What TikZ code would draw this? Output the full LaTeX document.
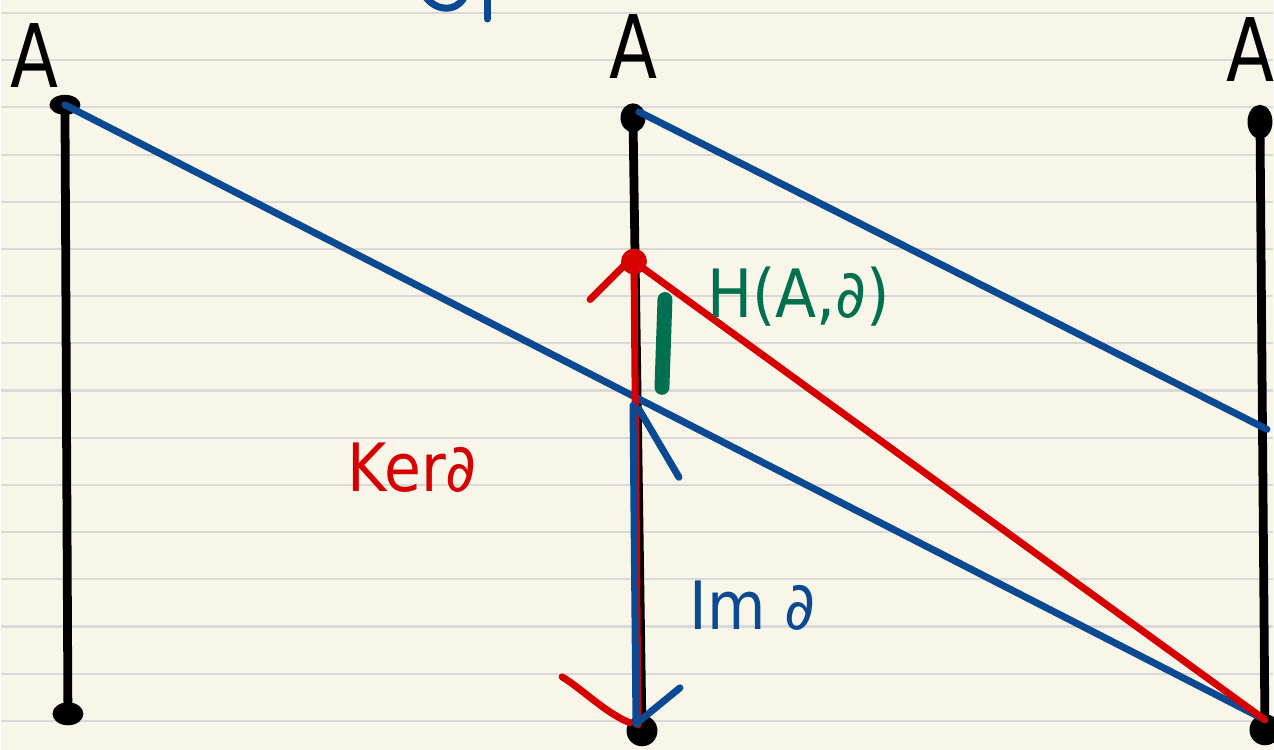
\documentclass[tikz,border=0pt]{standalone}
\usepackage{fontspec}
\setmainfont{DejaVu Sans}
\usetikzlibrary{shapes.geometric,calc}
\definecolor{paper}{HTML}{F8F6E9}
\definecolor{ruling}{HTML}{D9D9D9}
\definecolor{imblue}{HTML}{0B4A92}
\definecolor{kerred}{HTML}{D60000}
\definecolor{homgreen}{HTML}{00704F}

\begin{document}
\begin{tikzpicture}[
  x=0.02cm, y=-0.02cm,
  dot/.style={ellipse, fill=black, inner sep=0pt, minimum width=0.5cm, minimum height=0.58cm},
  pole/.style={line width=5pt, black},
  map/.style={line width=4pt, imblue, line cap=round},
  ker/.style={line width=4pt, kerred, line cap=round},
  lbl/.style={font=\fontsize{50}{50}\selectfont, inner sep=0pt, xscale=0.8},
  hand/.style={font=\fontsize{38}{38}\selectfont, inner sep=0pt, xscale=0.9}
]
% ruled paper
\fill[paper] (0,0) rectangle (1274,751);
\foreach \k in {0,...,15}
  \draw[ruling, line width=1.2pt] (0,{13+47.27*\k}) -- (1274,{13+47.27*\k});
\useasboundingbox (0,0) rectangle (1274,751);

% the three copies of A
\node[dot, minimum width=0.62cm, minimum height=0.4cm] (ltop) at (64,105) {};
\node[dot, minimum width=0.62cm, minimum height=0.46cm] (lbot) at (67,715) {};
\node[dot] (mtop) at (633,118) {};
\node[dot, minimum width=0.62cm, minimum height=0.62cm] (mbot) at (642,732) {};
\node[dot, minimum height=0.68cm] (rtop) at (1261,122) {};
\node[dot, minimum width=0.62cm, minimum height=0.62cm] (rbot) at (1266,731) {};

\node[lbl] (lA) at (34,56) {A};
\node[lbl] (mA) at (633,47) {A};
\node[lbl] (rA) at (1252,50) {A};

\draw[pole] (ltop.center) -- (lbot.center);
\draw[pole] (mtop.center) -- (mbot.center);
\draw[pole] (rtop.center) -- (rbot.center);

% the maps
\coordinate (rmid) at (1268,430);
\coordinate (rend) at (1266,721);
\draw[map] (ltop.center) -- (rend);
\draw[map] (mtop.center) ++(6,-6) -- (rmid);

% kernel
\node[circle, fill=kerred, inner sep=0pt, minimum size=0.52cm] (kdot) at (634,262) {};
\draw[ker] (kdot.center) -- (rend);
\draw[ker] (kdot.center) -- ($(mbot.center)+(-4,-6)$);
\draw[ker] (kdot.center) ++(-10,4) -- ++(-34,34);
\draw[ker] (mbot.center) ++(-12,-8) .. controls ++(-25,-10) and ++(20,12) .. ++(-68,-46);
\node[hand, text=kerred] (ker) at (412,468) {Ker∂};

% image
\coordinate (itop) at (633,406);
\draw[map] (itop) -- ($(mbot.center)+(-6,-7)$);
\draw[map] (itop) ++(6,4) -- ++(40,68);
\draw[map] (mbot.center) ++(-6,-7) -- ++(44,-36);
\node[hand, text=imblue] (im) at (753,607) {Im ∂};

% homology
\draw[homgreen, line width=8.5pt, line cap=round] (665,300) -- (662,388);
\node[hand, text=homgreen] (hom) at (799,297) {H(A,∂)};

% cut off text at the top
\draw[map] (426,-2) .. controls (438,12) and (455,11) .. (463,-1);
\draw[map] (487,-2) -- (487,19);
\end{tikzpicture}
\end{document}
